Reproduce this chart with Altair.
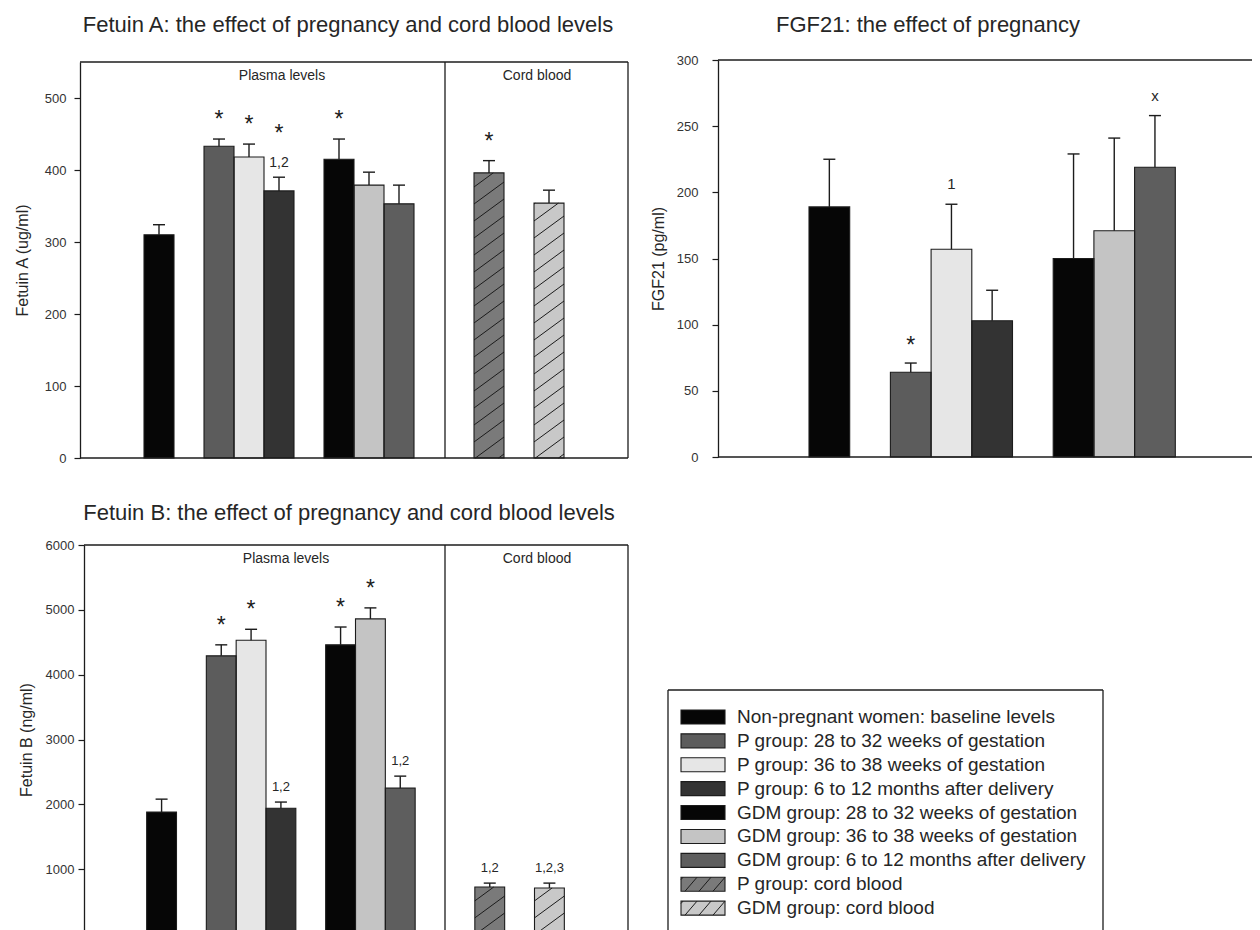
import altair as alt
import pandas as pd

# ---------------- data ----------------
GROUPS = [
    "Non-pregnant women: baseline levels",
    "P group: 28 to 32 weeks of gestation",
    "P group: 36 to 38 weeks of gestation",
    "P group: 6 to 12 months after delivery",
    "GDM group: 28 to 32 weeks of gestation",
    "GDM group: 36 to 38 weeks of gestation",
    "GDM group: 6 to 12 months after delivery",
    "P group: cord blood",
    "GDM group: cord blood",
]
FILLS = ["#060606", "#5c5c5c", "#e6e6e6", "#333333", "#060606",
         "#c4c4c4", "#5e5e5e", "#7a7a7a", "#c8c8c8"]
HATCHED = [False, False, False, False, False, False, False, True, True]

FETUIN_A_VALUES = [310, 433, 418, 371, 415, 379, 353, 396, 354]
FETUIN_A_ERRORS = [14, 10, 18, 19, 28, 18, 26, 17, 18]
FETUIN_A_STARS = ["", "*", "*", "*", "*", "", "", "*", ""]
FETUIN_A_NOTES = ["", "", "", "1,2", "", "", "", "", ""]
FETUIN_A_TICKS = [0, 100, 200, 300, 400, 500]

FGF21_VALUES = [189, 64, 157, 103, 150, 171, 219]
FGF21_ERRORS = [36, 7, 34, 23, 79, 70, 39]
FGF21_STARS = ["", "*", "", "", "", "", ""]
FGF21_NOTES = ["", "", "1", "", "", "", "x"]
FGF21_TICKS = [0, 50, 100, 150, 200, 250, 300]

FETUIN_B_VALUES = [1880, 4290, 4530, 1940, 4460, 4860, 2250, 725, 710]
FETUIN_B_ERRORS = [200, 170, 170, 95, 275, 170, 185, 60, 75]
FETUIN_B_STARS = ["", "*", "*", "", "*", "*", "", "", ""]
FETUIN_B_NOTES = ["", "", "", "1,2", "", "", "1,2", "1,2", "1,2,3"]
FETUIN_B_TICKS = [0, 1000, 2000, 3000, 4000, 5000, 6000]

TITLES = [
    "Fetuin A: the effect of pregnancy and cord blood levels",
    "FGF21: the effect of pregnancy",
    "Fetuin B: the effect of pregnancy and cord blood levels",
]
Y_TITLES = ["Fetuin A (ug/ml)", "FGF21 (pg/ml)", "Fetuin B (ng/ml)"]
SECTIONS = ["Plasma levels", "Cord blood"]

# ---------------- layout ----------------
M = 8                      # page margin
W, H = 1244, 922
FONT = "Liberation Sans"
INK = "#1c1c1c"
TXT = "#262626"

# slot order (None = empty slot between groups)
SLOTS_AB = [None, None, 0, None, 1, 2, 3, None, 4, 5, 6, None, None, 7, None, 8, None, None]
SLOTS_F = [None, None, 0, None, 1, 2, 3, None, 4, 5, 6, None, None]

PANELS = [
    dict(values=FETUIN_A_VALUES, errors=FETUIN_A_ERRORS, stars=FETUIN_A_STARS,
         notes=FETUIN_A_NOTES, ticks=FETUIN_A_TICKS, ymax=550, ytitle=Y_TITLES[0],
         slots=SLOTS_AB, slot_px=(84, 624), y_px=(458, 62), axis_x=80,
         label_pad=8, title_pad=14, note_size=14, note_dy=-10,
         star_dy=-12, star_dy_above=-36),
    dict(values=FGF21_VALUES, errors=FGF21_ERRORS, stars=FGF21_STARS,
         notes=FGF21_NOTES, ticks=FGF21_TICKS, ymax=300, ytitle=Y_TITLES[1],
         slots=SLOTS_F, slot_px=(727.6, 1256.7), y_px=(457, 60), axis_x=718,
         label_pad=14, title_pad=10, note_size=15, note_dy=-15,
         star_dy=-10, star_dy_above=-34),
    dict(values=FETUIN_B_VALUES, errors=FETUIN_B_ERRORS, stars=FETUIN_B_STARS,
         notes=FETUIN_B_NOTES, ticks=FETUIN_B_TICKS, ymax=6000, ytitle=Y_TITLES[2],
         slots=SLOTS_AB, slot_px=(87, 624), y_px=(934, 545), axis_x=84,
         label_pad=4, title_pad=11, note_size=13, note_dy=-11,
         star_dy=-12, star_dy_above=-36),
]

FILL_SCALE = alt.Scale(domain=GROUPS, range=FILLS)


def clip_segment(x0, y0, x1, y1, xmin, xmax, ymin, ymax):
    dx, dy = x1 - x0, y1 - y0
    t0, t1 = 0.0, 1.0
    for p, q in ((-dx, x0 - xmin), (dx, xmax - x0), (-dy, y0 - ymin), (dy, ymax - y0)):
        if p == 0:
            if q < 0:
                return None
        else:
            t = q / p
            if p < 0:
                if t > t1:
                    return None
                t0 = max(t0, t)
            else:
                if t < t0:
                    return None
                t1 = min(t1, t)
    if t1 <= t0:
        return None
    return (x0 + t0 * dx, y0 + t0 * dy, x0 + t1 * dx, y0 + t1 * dy)


def panel_layers(p):
    n = len(p["slots"])
    xsc = alt.Scale(domain=[0, n], range=[p["slot_px"][0] - M, p["slot_px"][1] - M],
                    nice=False, zero=False)
    ysc = alt.Scale(domain=[0, p["ymax"]], range=[p["y_px"][0] - M, p["y_px"][1] - M],
                    nice=False, zero=False)
    rows = []
    for gi, (v, e, s, nt) in enumerate(zip(p["values"], p["errors"], p["stars"], p["notes"])):
        pos = p["slots"].index(gi)
        rows.append(dict(group=GROUPS[gi], value=v, top=v + e, x0=pos, x1=pos + 1,
                         xc=pos + 0.5, star=s, note=nt, hatched=HATCHED[gi]))
    df = pd.DataFrame(rows)

    def X(f):
        return alt.X(f, type="quantitative", scale=xsc, axis=None)

    def Y(f, axis=None):
        return alt.Y(f, type="quantitative", scale=ysc, axis=axis)

    yaxis = alt.Axis(orient="left", offset=-(p["axis_x"] - M), values=p["ticks"],
                     format="d", grid=False, tickSize=6, tickWidth=1.2, tickColor=INK,
                     domainColor=INK, domainWidth=1.3,
                     labelFont=FONT, labelFontSize=13, labelColor="#333333",
                     labelPadding=p["label_pad"], title=p["ytitle"], titleFont=FONT,
                     titleFontSize=16, titleFontWeight="normal", titleColor=TXT,
                     titlePadding=p["title_pad"])

    layers = []
    layers.append(alt.Chart(df).mark_bar(strokeWidth=0).encode(
        x=X("x0"), x2="x1", y=Y("value", yaxis), y2=alt.datum(0),
        fill=alt.Fill("group:N", scale=FILL_SCALE, legend=None)))

    # hatch lines for cord-blood bars
    ppu = (p["y_px"][0] - p["y_px"][1]) / p["ymax"]
    step_px = (p["slot_px"][1] - p["slot_px"][0]) / n
    S = 17.0 / ppu
    R = 22.0 * step_px / 30.0 / ppu
    hrows = []
    for r in rows:
        if not r["hatched"]:
            continue
        b = -R + 4.0 / ppu
        while b < r["value"]:
            seg = clip_segment(r["x0"], b, r["x1"], b + R, r["x0"], r["x1"], 0, r["value"])
            if seg:
                hrows.append(dict(hx0=seg[0], hy0=seg[1], hx1=seg[2], hy1=seg[3]))
            b += S
    if hrows:
        layers.append(alt.Chart(pd.DataFrame(hrows)).mark_rule(color=INK, strokeWidth=1).encode(
            x=X("hx0"), x2="hx1", y=Y("hy0"), y2="hy1"))

    layers.append(alt.Chart(df).mark_bar(fillOpacity=0, stroke=INK, strokeWidth=1.1).encode(
        x=X("x0"), x2="x1", y=Y("value"), y2=alt.datum(0)))
    layers.append(alt.Chart(df).mark_rule(color=INK, strokeWidth=1.4).encode(
        x=X("xc"), y=Y("value"), y2="top"))
    layers.append(alt.Chart(df).mark_tick(orient="horizontal", size=12, thickness=1.4,
                                          color=INK, opacity=1).encode(
        x=X("xc"), y=Y("top")))

    star_plain = df[(df.star != "") & (df.note == "")]
    star_above = df[(df.star != "") & (df.note != "")]
    notes = df[df.note != ""]
    if len(star_plain):
        layers.append(alt.Chart(star_plain).mark_text(
            font=FONT, fontSize=23, color=INK, baseline="alphabetic", align="center",
            dy=p["star_dy"]).encode(x=X("xc"), y=Y("top"), text="star:N"))
    if len(star_above):
        layers.append(alt.Chart(star_above).mark_text(
            font=FONT, fontSize=23, color=INK, baseline="alphabetic", align="center",
            dy=p["star_dy_above"]).encode(x=X("xc"), y=Y("top"), text="star:N"))
    if len(notes):
        layers.append(alt.Chart(notes).mark_text(
            font=FONT, fontSize=p["note_size"], color=TXT, baseline="alphabetic",
            align="center", dy=p["note_dy"]).encode(x=X("xc"), y=Y("top"), text="note:N"))
    return layers


layers = []
for p in PANELS:
    layers += panel_layers(p)

# ---------------- frames ----------------
FRAME = [
    (80, 62, 628, 62), (628, 62, 628, 458), (80, 458, 628, 458), (445, 62, 445, 458),
    (718, 60, 1262, 60), (718, 457, 1262, 457),
    (84, 545, 628, 545), (628, 545, 628, 940), (445, 545, 445, 940),
    (668, 690, 1103, 690), (668, 690, 668, 940), (1103, 690, 1103, 940),
]
frame_df = pd.DataFrame([dict(x=a - M, y=b - M, x2=c - M, y2=d - M) for a, b, c, d in FRAME])
layers.append(alt.Chart(frame_df).mark_rule(color=INK, strokeWidth=1.3).encode(
    x=alt.X("x:Q", scale=None), y=alt.Y("y:Q", scale=None),
    x2="x2:Q", y2="y2:Q"))

# ---------------- titles and section labels ----------------
TEXT_ROWS = [
    (TITLES[0], 348, 32, 22), (TITLES[1], 928, 32, 22), (TITLES[2], 349, 520, 22),
    (SECTIONS[0], 282, 80, 14), (SECTIONS[1], 537, 80, 14),
    (SECTIONS[0], 286, 563, 14), (SECTIONS[1], 537, 563, 14),
]
text_df = pd.DataFrame([dict(text=t, x=x - M, y=y - M, size=s) for t, x, y, s in TEXT_ROWS])
layers.append(alt.Chart(text_df).mark_text(font=FONT, color=TXT, align="center",
                                           baseline="alphabetic").encode(
    x=alt.X("x:Q", scale=None), y=alt.Y("y:Q", scale=None), text="text:N",
    size=alt.Size("size:Q", scale=None)))

# ---------------- legend ----------------
LEG_TOP, LEG_STEP = 705, 23.9
SYM_W, SYM_H = 44, 14
lx = alt.Scale(domain=[0, SYM_W], range=[681 - M, 681 + SYM_W - M], nice=False, zero=False)
ly = alt.Scale(domain=[0, len(GROUPS)], range=[LEG_TOP - M, LEG_TOP + len(GROUPS) * LEG_STEP - M],
               nice=False, zero=False)
half = SYM_H / 2 / LEG_STEP
leg_rows, leg_hatch = [], []
for i, g in enumerate(GROUPS):
    leg_rows.append(dict(group=g, sx0=0, sx1=SYM_W, y0=i + 0.5 - half, y1=i + 0.5 + half, yc=i + 0.5))
    if HATCHED[i]:
        for o in (-10, 4, 18, 32):
            seg = clip_segment(o, 0, o + 12, SYM_H, 0, SYM_W, 0, SYM_H)
            if seg:
                leg_hatch.append(dict(hx0=seg[0], hx1=seg[2],
                                      hy0=i + 0.5 + (SYM_H / 2 - seg[1]) / LEG_STEP,
                                      hy1=i + 0.5 + (SYM_H / 2 - seg[3]) / LEG_STEP))
leg_df = pd.DataFrame(leg_rows)
layers.append(alt.Chart(leg_df).mark_rect(strokeWidth=0).encode(
    x=alt.X("sx0:Q", scale=lx, axis=None), x2="sx1",
    y=alt.Y("y0:Q", scale=ly, axis=None), y2="y1",
    fill=alt.Fill("group:N", scale=FILL_SCALE, legend=None)))
layers.append(alt.Chart(pd.DataFrame(leg_hatch)).mark_rule(color=INK, strokeWidth=1).encode(
    x=alt.X("hx0:Q", scale=lx, axis=None), x2="hx1",
    y=alt.Y("hy0:Q", scale=ly, axis=None), y2="hy1"))
layers.append(alt.Chart(leg_df).mark_rect(fillOpacity=0, stroke=INK, strokeWidth=1.1).encode(
    x=alt.X("sx0:Q", scale=lx, axis=None), x2="sx1",
    y=alt.Y("y0:Q", scale=ly, axis=None), y2="y1"))
layers.append(alt.Chart(leg_df).mark_text(font=FONT, fontSize=19, color=TXT, align="left",
                                          baseline="middle").encode(
    x=alt.value(737 - M), y=alt.Y("yc:Q", scale=ly, axis=None), text="group:N"))

chart = alt.layer(*layers).resolve_scale(
    x="independent", y="independent"
).properties(
    width=W, height=H, padding=0, autosize=alt.AutoSizeParams(type="none"),
    background="white"
).configure_view(strokeWidth=0)

chart.save("out.html", embed_options={"renderer": "svg", "actions": False})
